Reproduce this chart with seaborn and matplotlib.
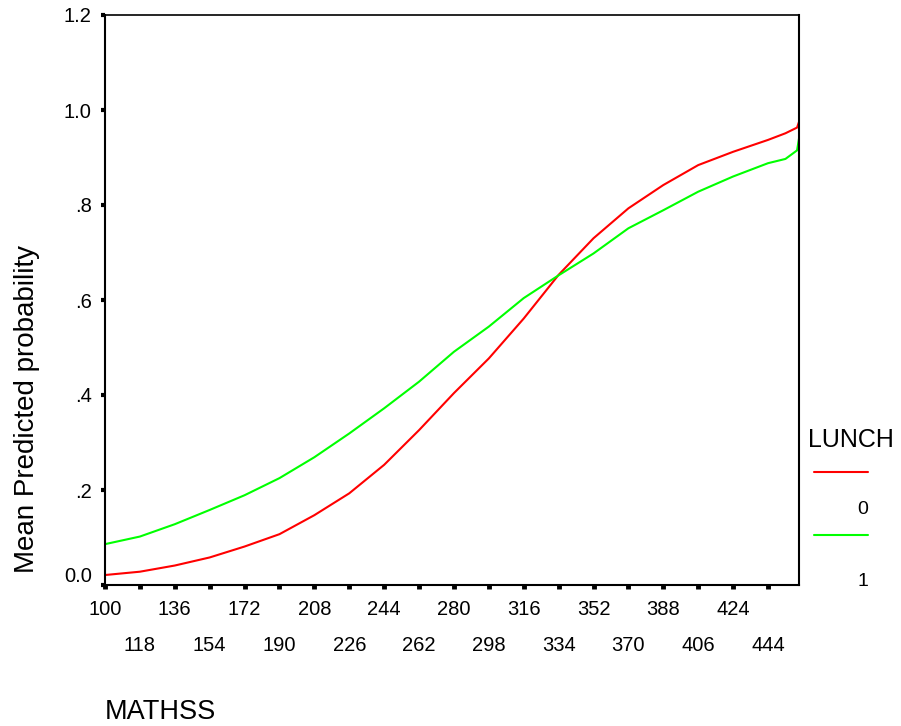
import matplotlib
matplotlib.use("Agg")
import matplotlib.pyplot as plt
from matplotlib.lines import Line2D
from matplotlib.transforms import ScaledTranslation
import pandas as pd
import seaborn as sns

# MATHSS scores observed in the sample (each one is a category on the x axis)
missing_scores = [431, 437]
scores = [s for s in range(100, 461) if s not in missing_scores]

# Mean predicted probability by MATHSS score, for each LUNCH group
sample_scores = [100, 118, 136, 154, 172, 190, 208, 226, 244, 262, 280, 298,
                 316, 334, 352, 370, 388, 406, 424, 444, 453, 459, 460]
prob_lunch0 = [0.021, 0.028, 0.041, 0.058, 0.081, 0.107, 0.147, 0.193, 0.253,
               0.326, 0.404, 0.477, 0.561, 0.653, 0.730, 0.793, 0.842, 0.884,
               0.912, 0.937, 0.951, 0.963, 0.975]
prob_lunch1 = [0.086, 0.102, 0.128, 0.158, 0.189, 0.225, 0.269, 0.319, 0.372,
               0.428, 0.491, 0.544, 0.604, 0.652, 0.698, 0.751, 0.789, 0.828,
               0.860, 0.888, 0.897, 0.915, 0.940]

lunch_levels = ["0", "1"]
line_colors = {"0": "#ff0000", "1": "#00ff00"}

tick_scores = [100, 118, 136, 154, 172, 190, 208, 226, 244, 262, 280, 298,
               316, 334, 352, 370, 388, 406, 424, 444]
ytick_values = [0.0, 0.2, 0.4, 0.6, 0.8, 1.0, 1.2]
ytick_labels = ["0.0", ".2", ".4", ".6", ".8", "1.0", "1.2"]

sns.set_style("white")
plt.rcParams["font.family"] = ["Liberation Sans", "DejaVu Sans"]
plt.rcParams["text.color"] = "black"
plt.rcParams["xtick.color"] = "black"
plt.rcParams["ytick.color"] = "black"
plt.rcParams["xtick.labelcolor"] = "black"
plt.rcParams["ytick.labelcolor"] = "black"

W, H = 901, 726
fig = plt.figure(figsize=(W / 100, H / 100), dpi=100)
ax = fig.add_axes([105 / W, (H - 585) / H, 694 / W, 570 / H])

df = pd.DataFrame({
    "pos": [scores.index(s) for s in sample_scores] * 2,
    "prob": prob_lunch0 + prob_lunch1,
    "LUNCH": ["0"] * len(prob_lunch0) + ["1"] * len(prob_lunch1),
})
sns.lineplot(data=df, x="pos", y="prob", hue="LUNCH", hue_order=lunch_levels,
             palette=line_colors, linewidth=1.5, estimator=None, legend=False,
             ax=ax)

ax.set_xlim(0, len(scores) - 1)
ax.set_ylim(0, 1.2)
ax.set_xlabel("")
ax.set_ylabel("")

# x ticks: alternate labels on two rows
tick_pos = [scores.index(s) for s in tick_scores]
ax.set_xticks(tick_pos[0::2], labels=[str(s) for s in tick_scores[0::2]])
ax.set_xticks(tick_pos[1::2], labels=[str(s) for s in tick_scores[1::2]],
              minor=True)
ax.set_yticks(ytick_values, labels=ytick_labels)

ax.tick_params(axis="x", which="both", direction="out", length=3, width=3.5,
               color="black", labelcolor="black", labelsize=14.5, bottom=True)
ax.tick_params(axis="x", which="major", pad=8.0)
ax.tick_params(axis="x", which="minor", pad=34.0)
ax.tick_params(axis="y", direction="out", length=3, width=3, color="black",
               labelcolor="black", pad=6.5, labelsize=14.5, left=True)

for name, sp in ax.spines.items():
    sp.set_visible(True)
    sp.set_color("black")
    sp.set_linewidth(1.5)
ax.spines["top"].set_linewidth(1.2)
ax.grid(False)

# "0.0" sits a little above its tick
for t in ax.yaxis.get_major_ticks():
    if abs(t.get_loc()) < 1e-9:
        t.label1.set_transform(t.label1.get_transform()
                               + ScaledTranslation(0, 0.10, fig.dpi_scale_trans))

def fx(px):
    return px / W

def fy(py):
    return (H - py) / H

fig.text(fx(27), fy(573), "Mean Predicted probability", rotation=90,
         ha="center", va="bottom", fontsize=20)
fig.text(fx(105), fy(719), "MATHSS", ha="left", va="baseline", fontsize=19.5)

# legend
fig.text(fx(808), fy(447), "LUNCH", ha="left", va="baseline", fontsize=18)
for lvl, ly, ty in [("0", 472, 510), ("1", 535, 582)]:
    fig.add_artist(Line2D([fx(814), fx(868)], [fy(ly), fy(ly)],
                          color=line_colors[lvl], linewidth=1.5,
                          transform=fig.transFigure))
    fig.text(fx(868), fy(ty), lvl, ha="right", va="center", fontsize=14)

fig.savefig("out.png", dpi=100, facecolor="white")
